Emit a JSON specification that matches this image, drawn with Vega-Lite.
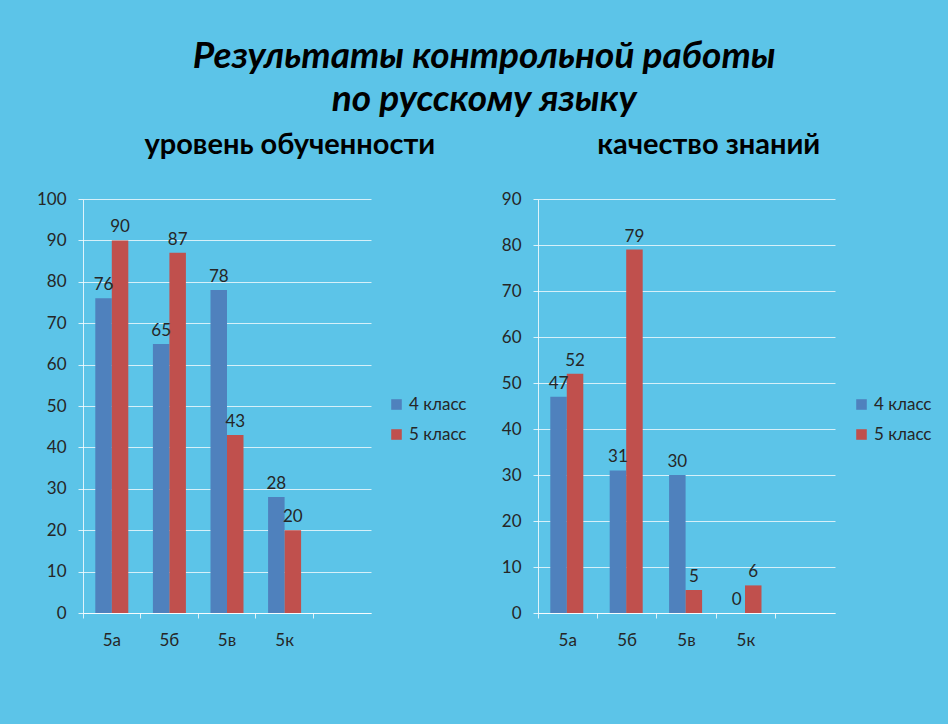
{
  "$schema": "https://vega.github.io/schema/vega-lite/v6.json",
  "background": "#5cc4e8",
  "padding": {"left": 36, "top": 38, "right": 16, "bottom": 80},
  "datasets": {
    "obuch": [
      {"cls": "5а", "grade": "4 класс", "value": 76},
      {"cls": "5а", "grade": "5 класс", "value": 90},
      {"cls": "5б", "grade": "4 класс", "value": 65},
      {"cls": "5б", "grade": "5 класс", "value": 87},
      {"cls": "5в", "grade": "4 класс", "value": 78},
      {"cls": "5в", "grade": "5 класс", "value": 43},
      {"cls": "5к", "grade": "4 класс", "value": 28},
      {"cls": "5к", "grade": "5 класс", "value": 20}
    ],
    "kach": [
      {"cls": "5а", "grade": "4 класс", "value": 47},
      {"cls": "5а", "grade": "5 класс", "value": 52},
      {"cls": "5б", "grade": "4 класс", "value": 31},
      {"cls": "5б", "grade": "5 класс", "value": 79},
      {"cls": "5в", "grade": "4 класс", "value": 30},
      {"cls": "5в", "grade": "5 класс", "value": 5},
      {"cls": "5к", "grade": "4 класс", "value": 0},
      {"cls": "5к", "grade": "5 класс", "value": 6}
    ]
  },
  "title": {
    "text": ["Результаты контрольной работы", "по русскому языку"],
    "font": "Lato",
    "fontSize": 37,
    "fontWeight": "bold",
    "fontStyle": "italic",
    "color": "#000000",
    "lineHeight": 43,
    "anchor": "middle",
    "offset": 12
  },
  "bounds": "flush",
  "spacing": 167,
  "resolve": {"scale": {"color": "independent", "y": "independent"}, "legend": {"color": "independent"}},
  "config": {
    "view": {"stroke": null},
    "axis": {
      "labelFont": "Lato",
      "labelFontSize": 17,
      "labelColor": "#262626",
      "gridColor": "#ffffff",
      "gridOpacity": 0.75,
      "domainColor": "#ffffff",
      "domainOpacity": 0.8,
      "tickColor": "#ffffff",
      "tickOpacity": 0.8,
      "tickSize": 5,
      "title": null
    },
    "title": {"font": "Lato", "fontSize": 29, "fontWeight": "bold", "color": "#000000"},
    "legend": {
      "title": null,
      "orient": "none",
      "symbolType": "square",
      "symbolSize": 112,
      "symbolStrokeWidth": 0,
      "labelFont": "Lato",
      "labelFontSize": 17,
      "labelColor": "#262626",
      "rowPadding": 12,
      "labelOffset": 4
    }
  },
  "hconcat": [
    {
      "width": 288,
      "height": 414,
      "data": {"name": "obuch"},
      "title": {"text": "уровень обученности", "anchor": "start", "dx": 108, "offset": 30},
      "encoding": {
        "x": {
          "field": "cls", "type": "nominal",
          "scale": {"domain": ["5а", "5б", "5в", "5к", " "], "paddingInner": 0, "paddingOuter": 0},
          "axis": {"labelAngle": 0, "bandPosition": 0, "labelPadding": 14, "grid": false}
        },
        "xOffset": {"field": "grade", "type": "nominal", "scale": {"paddingInner": 0, "paddingOuter": 0.745}},
        "y": {
          "field": "value", "type": "quantitative",
          "scale": {"domain": [0, 100], "nice": false},
          "axis": {"values": [0, 10, 20, 30, 40, 50, 60, 70, 80, 90, 100], "labelPadding": 12}
        }
      },
      "layer": [
        {
          "mark": {"type": "bar"},
          "encoding": {
            "color": {
              "field": "grade", "type": "nominal",
              "scale": {"domain": ["4 класс", "5 класс"], "range": ["#4f81bd", "#c0504d"]},
              "legend": {"legendX": 305, "legendY": 197}
            }
          }
        },
        {
          "mark": {"type": "text", "baseline": "bottom", "dy": -4, "font": "Lato", "fontSize": 17, "color": "#262626"},
          "encoding": {"text": {"field": "value", "type": "quantitative"}}
        }
      ]
    },
    {
      "width": 297,
      "height": 414,
      "data": {"name": "kach"},
      "title": {"text": "качество знаний", "anchor": "start", "dx": 96, "offset": 30},
      "encoding": {
        "x": {
          "field": "cls", "type": "nominal",
          "scale": {"domain": ["5а", "5б", "5в", "5к", " "], "paddingInner": 0, "paddingOuter": 0},
          "axis": {"labelAngle": 0, "bandPosition": 0, "labelPadding": 14, "grid": false}
        },
        "xOffset": {"field": "grade", "type": "nominal", "scale": {"paddingInner": 0, "paddingOuter": 0.747}},
        "y": {
          "field": "value", "type": "quantitative",
          "scale": {"domain": [0, 90], "nice": false},
          "axis": {"values": [0, 10, 20, 30, 40, 50, 60, 70, 80, 90], "labelPadding": 12}
        }
      },
      "layer": [
        {
          "mark": {"type": "bar"},
          "encoding": {
            "color": {
              "field": "grade", "type": "nominal",
              "scale": {"domain": ["4 класс", "5 класс"], "range": ["#4f81bd", "#c0504d"]},
              "legend": {"legendX": 315, "legendY": 197}
            }
          }
        },
        {
          "mark": {"type": "text", "baseline": "bottom", "dy": -4, "font": "Lato", "fontSize": 17, "color": "#262626"},
          "encoding": {"text": {"field": "value", "type": "quantitative"}}
        }
      ]
    }
  ]
}
